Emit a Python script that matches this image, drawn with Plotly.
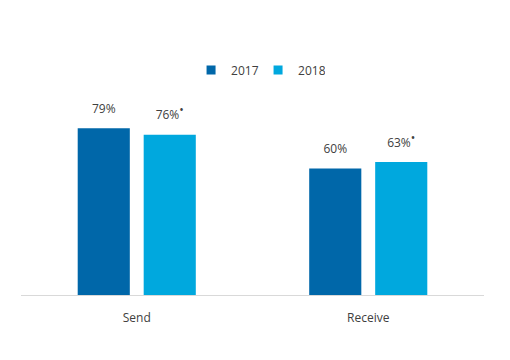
import plotly.graph_objects as go

categories = ["Send", "Receive"]
series_names = ["2017", "2018"]
values_2017 = [79, 60]
values_2018 = [76, 63]
labels_2017 = ["79%", "60%"]
labels_2018 = ["76%<sup><span style='font-size:12px'>•</span></sup>",
               "63%<sup><span style='font-size:12px'>•</span></sup>"]
colors = ["#0067A9", "#00A8DE"]

FONT = "Open Sans, sans-serif"
fig = go.Figure()
for name, vals, col in zip(series_names, [values_2017, values_2018], colors):
    fig.add_trace(go.Bar(
        x=categories, y=vals, name=name, marker_color=col,
        marker_line_width=0, offsetgroup=name, showlegend=False,
    ))
for name, vals, labs in zip(series_names, [values_2017, values_2018],
                            [labels_2017, labels_2018]):
    fig.add_trace(go.Scatter(
        x=categories, y=vals, mode="markers+text", text=labs,
        textposition="top center", offsetgroup=name, showlegend=False,
        marker=dict(size=18, color="rgba(0,0,0,0)"), cliponaxis=False,
        textfont=dict(family=FONT, size=12, color="#404040"), hoverinfo="skip",
    ))
for name, col in zip(series_names, colors):
    fig.add_trace(go.Scatter(
        x=[None], y=[None], mode="markers", name=name,
        marker=dict(symbol="square", size=9, color=col),
    ))

fig.update_layout(
    width=510, height=360,
    margin=dict(l=21, r=26, t=84, b=65),
    paper_bgcolor="white", plot_bgcolor="white",
    barmode="group", bargap=0.43, bargroupgap=0.21,
    scattermode="group", scattergap=0.43,
    font=dict(family=FONT, size=12, color="#404040"),
    legend=dict(orientation="h", x=0.512, xanchor="center", y=1.066, yanchor="middle",
                font=dict(size=12, color="#404040"), itemwidth=30,
                entrywidth=22, traceorder="normal"),
    xaxis=dict(showline=True, linecolor="#D9D9D9", linewidth=1, ticks="",
               ticklabelstandoff=12, tickfont=dict(size=12, color="#404040")),
    yaxis=dict(range=[0, 100], visible=False, showgrid=False),
)
fig.write_html("out.html")
